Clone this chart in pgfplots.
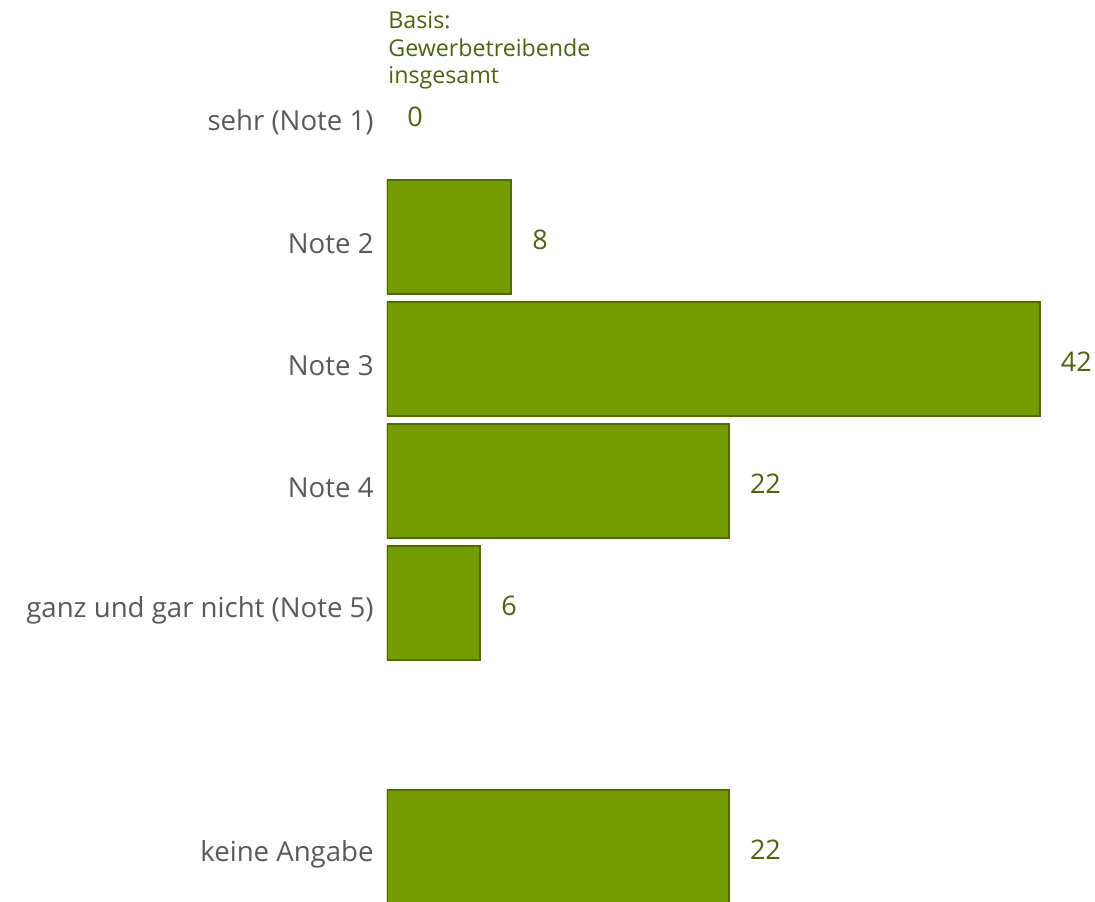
\documentclass[border=0pt]{standalone}
\usepackage{pgfplots}
\pgfplotsset{compat=1.18}
\usepackage{fontspec}
\setmainfont{Open Sans}
\definecolor{barfill}{RGB}{115,156,0}
\definecolor{barline}{RGB}{79,106,0}
\definecolor{valtext}{RGB}{79,98,20}
\definecolor{labgray}{RGB}{89,89,89}
\begin{document}
\begin{tikzpicture}
\useasboundingbox (-193.5pt,0pt) rectangle (354pt,450.5pt);
\begin{axis}[
  at={(0pt,0pt)}, anchor=south west,
  scale only axis,
  width=354pt, height=450.5pt,
  xmin=0, xmax=45.54,
  ymin=-0.943, ymax=6.443,
  y dir=reverse,
  clip=true, clip mode=individual,
  /pgf/number format/assume math mode=true,
  ytick={0,1,2,3,4,6},
  yticklabels={sehr (Note 1),Note 2,Note 3,Note 4,ganz und gar nicht (Note 5),keine Angabe},
  yticklabel style={font=\fontsize{13.8}{16}\selectfont, text=labgray, anchor=east, inner sep=0pt, xshift=-6.5pt, yshift=-3.5pt},
  major tick length=0pt,
  xtick=\empty,
  hide x axis,
  axis y line*=left,
  y axis line style={draw=none},
  ytick style={draw=none},
]
\addplot[xbar, bar width=57pt, bar shift=0pt, fill=barfill, draw=barline, line width=1pt,
  nodes near coords, nodes near coords align={horizontal},
  every node near coord/.append style={font=\fontsize{13.5}{16}\selectfont, text=valtext, anchor=west, inner sep=0pt, xshift=10pt, yshift=-1.5pt}]
  coordinates {(8,1) (42,2) (22,3) (6,4) (22,6)};
\addplot[xbar, bar width=57pt, bar shift=0pt, draw=none, fill=none,
  nodes near coords, nodes near coords align={horizontal},
  every node near coord/.append style={font=\fontsize{13.5}{16}\selectfont, text=valtext, anchor=west, inner sep=0pt, xshift=10pt, yshift=-1pt}]
  coordinates {(0,0)};
\end{axis}
\node[anchor=north west, align=left, inner sep=0pt, text=valtext, font=\fontsize{11.6}{13.8}\selectfont] at (0.5pt,445pt) {Basis:\\Gewerbetreibende\\insgesamt};
\end{tikzpicture}
\end{document}
